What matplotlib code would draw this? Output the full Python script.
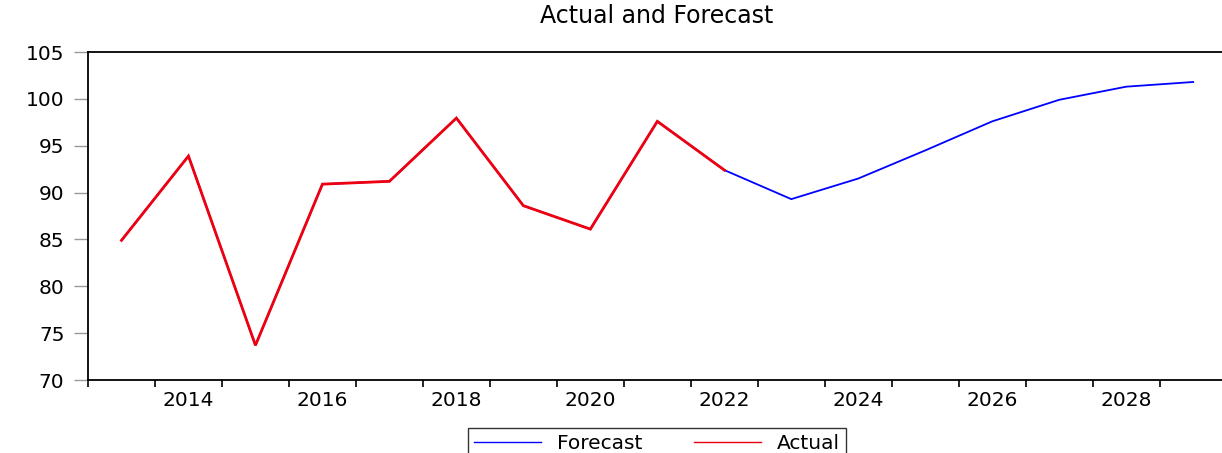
import matplotlib
matplotlib.use("Agg")
import matplotlib.pyplot as plt
from matplotlib.ticker import FixedLocator, NullFormatter

years = list(range(2013, 2030))
forecast = [84.9, 93.9, 73.7, 90.9, 91.2, 97.95, 88.6, 86.1, 97.6, 92.4,
            89.3, 91.5, 94.5, 97.6, 99.9, 101.3, 101.8]
actual_years = list(range(2013, 2023))
actual = [84.9, 93.9, 73.7, 90.9, 91.2, 97.95, 88.6, 86.1, 97.6, 92.4]
xtick_labels = [2014, 2016, 2018, 2020, 2022, 2024, 2026, 2028]
yticks = [70, 75, 80, 85, 90, 95, 100, 105]

plt.rcParams['font.family'] = ['DejaVu Sans']

fig = plt.figure(figsize=(12.22, 4.53), dpi=100)
ax = fig.add_axes([88/1222, 1-380/453, 1-88/1222, (380-52)/453])

ax.plot(years, forecast, color='#0000ff', lw=1.3, label='Forecast', solid_joinstyle='miter')
ax.plot(actual_years, actual, color='#ee0010', lw=2.0, label='Actual', solid_joinstyle='miter')

ax.set_xlim(2012.5, 2029.43)
ax.set_ylim(70, 105)

ax.spines['right'].set_visible(False)
for s in ['left', 'bottom', 'top']:
    ax.spines[s].set_linewidth(1.3)
    ax.spines[s].set_color('black')

ax.set_yticks(yticks)
ax.set_yticklabels([str(v) for v in yticks])
ax.tick_params(axis='y', which='major', length=10, width=1, color='#999999',
               pad=7, labelsize=14.5, direction='out')

ax.xaxis.set_major_locator(FixedLocator(xtick_labels))
ax.set_xticklabels([str(v) for v in xtick_labels])
ax.xaxis.set_minor_locator(FixedLocator([y + 0.5 for y in range(2012, 2030)]))
ax.xaxis.set_minor_formatter(NullFormatter())
ax.tick_params(axis='x', which='major', length=0, pad=8, labelsize=14.5)
ax.tick_params(axis='x', which='minor', length=5, width=1.2, color='black', direction='out')

fig.text(657/1222, 1-16/453, 'Actual and Forecast', ha='center', va='center', fontsize=17)

leg = fig.legend(loc='upper center', bbox_to_anchor=(657/1222, 1-428/453), ncol=2,
                 fontsize=14.5, frameon=True, fancybox=False, edgecolor='black',
                 handlelength=3.3, columnspacing=2.6, handletextpad=0.8,
                 borderpad=0.3, borderaxespad=0)
leg.get_frame().set_linewidth(1.0)
for l in leg.get_lines():
    l.set_linewidth(1.0)

fig.savefig('out.png', dpi=100)
